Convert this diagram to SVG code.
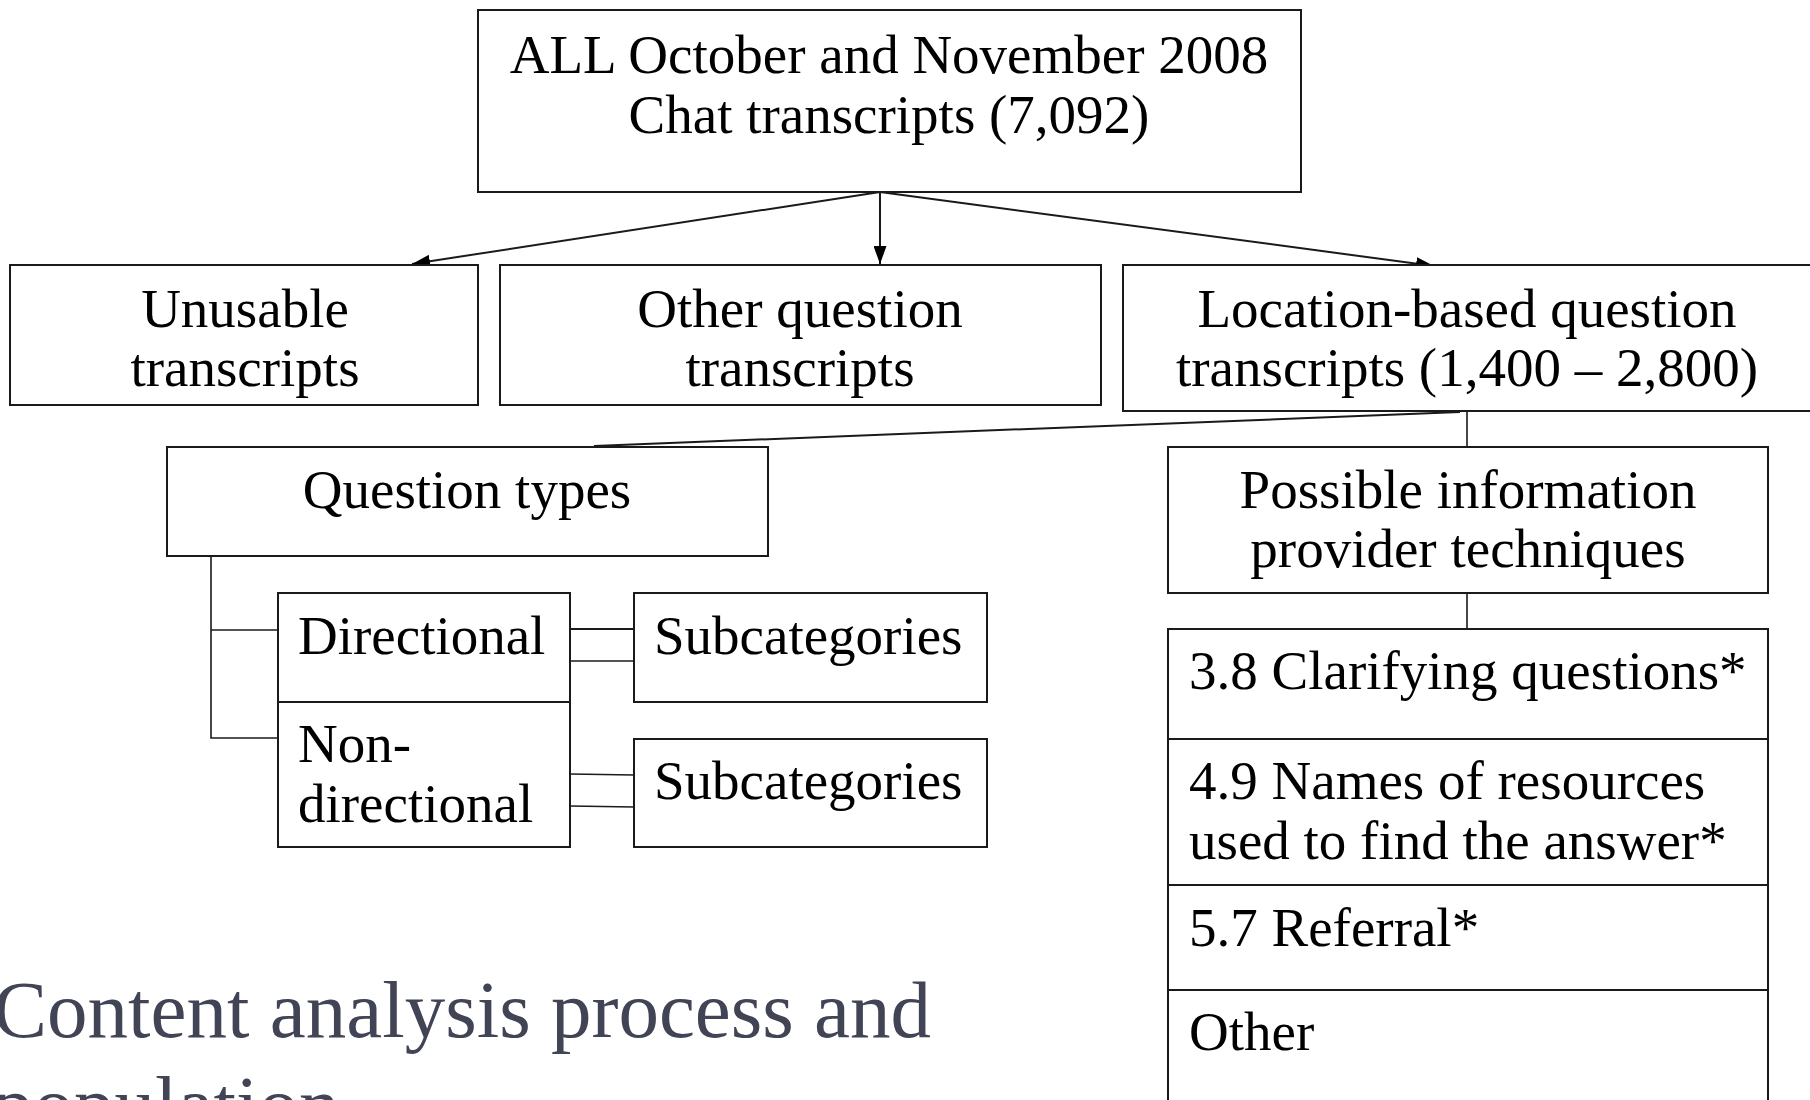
<svg xmlns="http://www.w3.org/2000/svg" width="1810" height="1100" viewBox="0 0 1810 1100">
<style>
.box{fill:#fff;stroke:#1a1a1a;stroke-width:2}
.t{font-family:"Liberation Serif","Times New Roman",serif;font-size:55px;fill:#000}
.c{text-anchor:middle}
.ln{stroke:#1a1a1a;stroke-width:2;fill:none}
.thin{stroke:#1a1a1a;stroke-width:1.6;fill:none}
.title{font-family:"Liberation Serif","Times New Roman",serif;font-size:81px;fill:#414455}
</style>
<defs>
<marker id="arr" viewBox="0 0 18 13" refX="18" refY="6.5" markerWidth="18" markerHeight="13" markerUnits="userSpaceOnUse" orient="auto">
<path d="M0,0 L18,6.5 L0,13 z" fill="#000"/>
</marker>
</defs>
<rect width="1810" height="1100" fill="#fff"/>
<g id="connectors">
<line class="ln" x1="880" y1="192" x2="412" y2="264" marker-end="url(#arr)"/>
<line class="ln" x1="880" y1="192" x2="880" y2="264" marker-end="url(#arr)"/>
<line class="ln" x1="880" y1="192" x2="1434" y2="266" marker-end="url(#arr)"/>
<line class="ln" x1="1460" y1="412" x2="594" y2="446"/>
<line class="thin" x1="1467" y1="412" x2="1467" y2="447"/>
<line class="thin" x1="1467" y1="593" x2="1467" y2="629"/>
<polyline class="thin" points="211,556 211,738 278,738"/>
<line class="thin" x1="211" y1="630" x2="278" y2="630"/>
<line class="ln" x1="569" y1="629" x2="634" y2="629"/>
<line class="thin" x1="570" y1="661" x2="634" y2="661"/>
<line class="thin" x1="570" y1="774" x2="634" y2="775"/>
<line class="thin" x1="570" y1="806" x2="634" y2="807"/>
</g>
<g id="top">
<rect class="box" x="478" y="10" width="823" height="182"/>
<text class="t c" x="889" y="73">ALL October and November 2008</text>
<text class="t c" x="889" y="133">Chat transcripts (7,092)</text>
</g>
<g id="unusable">
<rect class="box" x="10" y="265" width="468" height="140"/>
<text class="t c" x="245" y="327">Unusable</text>
<text class="t c" x="245" y="386">transcripts</text>
</g>
<g id="other-question">
<rect class="box" x="500" y="265" width="601" height="140"/>
<text class="t c" x="800" y="327">Other question</text>
<text class="t c" x="800" y="386">transcripts</text>
</g>
<g id="location">
<rect class="box" x="1123" y="265" width="700" height="146"/>
<text class="t c" x="1467" y="327">Location-based question</text>
<text class="t c" x="1467" y="386">transcripts (1,400 – 2,800)</text>
</g>
<g id="question-types">
<rect class="box" x="167" y="447" width="601" height="109"/>
<text class="t c" x="467" y="508">Question types</text>
</g>
<g id="possible">
<rect class="box" x="1168" y="447" width="600" height="146"/>
<text class="t c" x="1468" y="508">Possible information</text>
<text class="t c" x="1468" y="567">provider techniques</text>
</g>
<g id="directional">
<rect class="box" x="278" y="593" width="292" height="109"/>
<text class="t" x="298" y="654">Directional</text>
</g>
<g id="non-directional">
<rect class="box" x="278" y="702" width="292" height="145"/>
<text class="t" x="298" y="762">Non-</text>
<text class="t" x="298" y="822">directional</text>
</g>
<g id="subcategories-1">
<rect class="box" x="634" y="593" width="353" height="109"/>
<text class="t" x="654" y="654">Subcategories</text>
</g>
<g id="subcategories-2">
<rect class="box" x="634" y="739" width="353" height="108"/>
<text class="t" x="654" y="799">Subcategories</text>
</g>
<g id="clarifying">
<rect class="box" x="1168" y="629" width="600" height="110"/>
<text class="t" x="1189" y="689">3.8 Clarifying questions*</text>
</g>
<g id="names">
<rect class="box" x="1168" y="739" width="600" height="146"/>
<text class="t" x="1189" y="799">4.9 Names of resources</text>
<text class="t" x="1189" y="859">used to find the answer*</text>
</g>
<g id="referral">
<rect class="box" x="1168" y="885" width="600" height="105"/>
<text class="t" x="1189" y="946">5.7 Referral*</text>
</g>
<g id="other">
<rect class="box" x="1168" y="990" width="600" height="120"/>
<text class="t" x="1189" y="1050">Other</text>
</g>
<g id="title">
<text class="title" x="-7" y="1037">Content analysis process and</text>
<text class="title" x="-7" y="1132">population</text>
</g>
</svg>
